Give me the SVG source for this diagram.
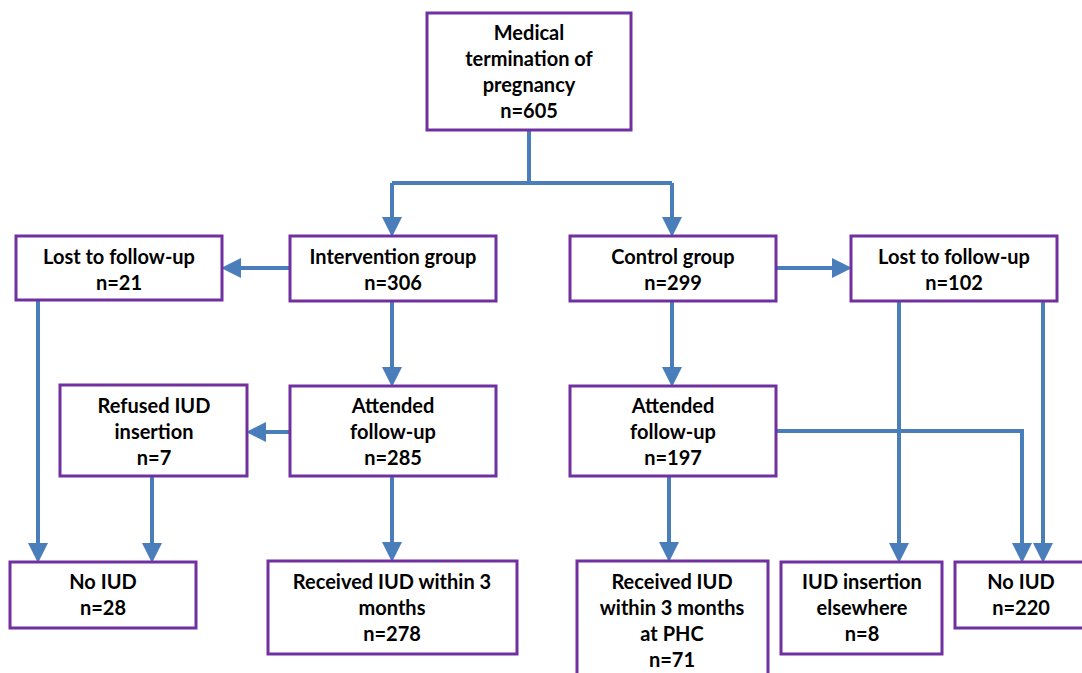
<svg xmlns="http://www.w3.org/2000/svg" width="1082" height="673" viewBox="0 0 1082 673">
<style>
.box{fill:#fff;stroke:#7030A0;stroke-width:3}
.t{font-family:Lato,"Liberation Sans",sans-serif;font-weight:bold;font-size:20px;fill:#000;text-anchor:middle}
.c{fill:none;stroke:#4A7EBB;stroke-width:4}
</style>
<defs>
<marker id="a" markerWidth="5" markerHeight="5" refX="4" refY="2.5" orient="auto" markerUnits="strokeWidth">
<path d="M0,0 L5,2.5 L0,5 Z" fill="#4A7EBB"/>
</marker>
</defs>
<rect width="1082" height="673" fill="#fff"/>
<g id="connectors">
<path class="c" d="M529,130 V183 M392,183 H672"/>
<path class="c" d="M392,183 V233" marker-end="url(#a)"/>
<path class="c" d="M672,183 V233" marker-end="url(#a)"/>
<path class="c" d="M290,268 H225" marker-end="url(#a)"/>
<path class="c" d="M776,268 H848" marker-end="url(#a)"/>
<path class="c" d="M392,301 V383" marker-end="url(#a)"/>
<path class="c" d="M672,301 V383" marker-end="url(#a)"/>
<path class="c" d="M290,432 H250" marker-end="url(#a)"/>
<path class="c" d="M38,300 V559" marker-end="url(#a)"/>
<path class="c" d="M152,476 V559" marker-end="url(#a)"/>
<path class="c" d="M392,476 V558" marker-end="url(#a)"/>
<path class="c" d="M669,476 V558" marker-end="url(#a)"/>
<path class="c" d="M776,431 H1022 V559" marker-end="url(#a)"/>
<path class="c" d="M899,301 V559" marker-end="url(#a)"/>
<path class="c" d="M1043,301 V559" marker-end="url(#a)"/>
</g>
<g id="n-mtp"><rect class="box" x="427" y="13" width="204" height="117"/>
<text class="t" x="529" y="40">Medical</text><text class="t" x="529" y="66">termination of</text><text class="t" x="529" y="92">pregnancy</text><text class="t" x="529" y="118">n=605</text></g>
<g id="n-int"><rect class="box" x="290" y="236" width="206" height="65"/>
<text class="t" x="393" y="264">Intervention group</text><text class="t" x="393" y="290">n=306</text></g>
<g id="n-ctl"><rect class="box" x="570" y="236" width="206" height="65"/>
<text class="t" x="673" y="264">Control group</text><text class="t" x="673" y="290">n=299</text></g>
<g id="n-lost1"><rect class="box" x="16" y="236" width="206" height="64"/>
<text class="t" x="119" y="264">Lost to follow-up</text><text class="t" x="119" y="290">n=21</text></g>
<g id="n-lost2"><rect class="box" x="851" y="236" width="206" height="65"/>
<text class="t" x="954" y="264">Lost to follow-up</text><text class="t" x="954" y="290">n=102</text></g>
<g id="n-ref"><rect class="box" x="60" y="385" width="187" height="91"/>
<text class="t" x="154" y="413">Refused IUD</text><text class="t" x="154" y="439">insertion</text><text class="t" x="154" y="465">n=7</text></g>
<g id="n-att1"><rect class="box" x="290" y="386" width="206" height="90"/>
<text class="t" x="393" y="413">Attended</text><text class="t" x="393" y="439">follow-up</text><text class="t" x="393" y="465">n=285</text></g>
<g id="n-att2"><rect class="box" x="570" y="386" width="206" height="90"/>
<text class="t" x="673" y="413">Attended</text><text class="t" x="673" y="439">follow-up</text><text class="t" x="673" y="465">n=197</text></g>
<g id="n-noiud1"><rect class="box" x="10" y="562" width="186" height="66"/>
<text class="t" x="103" y="589">No IUD</text><text class="t" x="103" y="615">n=28</text></g>
<g id="n-rec1"><rect class="box" x="268" y="561" width="249" height="93"/>
<text class="t" x="392" y="589">Received IUD within 3</text><text class="t" x="392" y="615">months</text><text class="t" x="392" y="641">n=278</text></g>
<g id="n-rec2"><rect class="box" x="577" y="561" width="191" height="120"/>
<text class="t" x="672" y="589">Received IUD</text><text class="t" x="672" y="615">within 3 months</text><text class="t" x="672" y="641">at PHC</text><text class="t" x="672" y="667">n=71</text></g>
<g id="n-else"><rect class="box" x="781" y="562" width="161" height="92"/>
<text class="t" x="862" y="589">IUD insertion</text><text class="t" x="862" y="615">elsewhere</text><text class="t" x="862" y="641">n=8</text></g>
<g id="n-noiud2"><rect class="box" x="955" y="562" width="140" height="66"/>
<text class="t" x="1021" y="589">No IUD</text><text class="t" x="1021" y="615">n=220</text></g>
</svg>
